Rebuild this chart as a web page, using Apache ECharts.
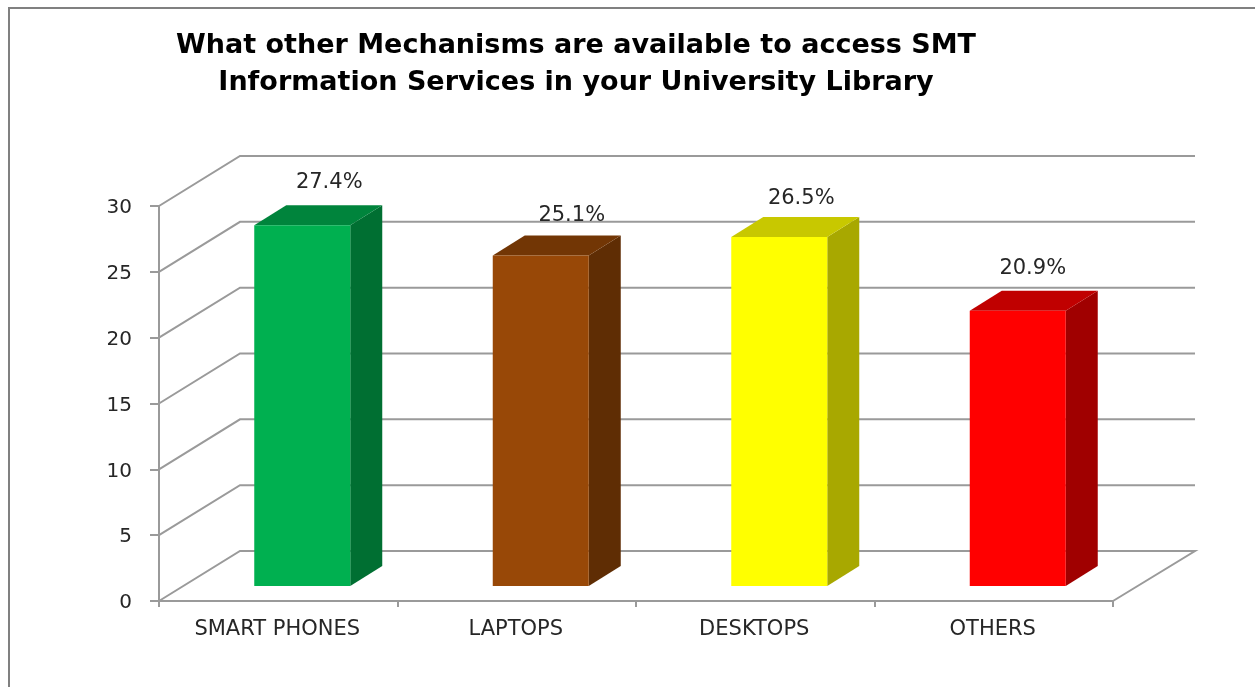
<!DOCTYPE html>
<html><head><meta charset="utf-8">
<style>html,body{margin:0;padding:0;background:#fff}#c{width:1255px;height:687px}</style>
<script src="https://cdn.jsdelivr.net/npm/echarts@6/dist/echarts.min.js"></script>
</head><body><div id="c"></div>
<script>
var categories = ['SMART PHONES','LAPTOPS','DESKTOPS','OTHERS'];
var values = [27.4,25.1,26.5,20.9];
var valueLabels = ['27.4%','25.1%','26.5%','20.9%'];
var gridValues = [0,5,10,15,20,25,30];
var frontColors = ['#00B050','#984807','#FFFF00','#FF0000'];
var topColors = ['#00843C','#723605','#C8C800','#C00000'];
var sideColors = ['#006F32','#5F2D04','#A8A800','#A00000'];
var labelShiftX = [27,31,22,15];
var labelShiftY = [-43,-40,-39,-42];
var titleLines = 'What other Mechanisms are available to access SMT\nInformation Services in your University Library';
var LINE='#9a9a9a', TEXT='#262626', FONT='"DejaVu Sans"';
var WALL_DX=81, WALL_DY=50, BAR_W=96, BAR_SHIFT_X=24, BAR_SHIFT_Y=15, SIDE_DX=32, SIDE_DY=20;

var chart = echarts.init(document.getElementById('c'),null,{renderer:'canvas'});
chart.setOption({
  animation:false,
  backgroundColor:'#fff',
  title:{text:titleLines,left:571,top:22,textAlign:'center',
    textStyle:{fontFamily:FONT,fontWeight:'bold',fontSize:27,lineHeight:37,color:'#000'}},
  grid:{left:159,right:142,top:206,bottom:86},
  xAxis:{type:'category',data:categories,
    axisLine:{lineStyle:{color:LINE,width:2}},
    axisTick:{show:true,length:6,lineStyle:{color:LINE,width:2}},
    axisLabel:{fontFamily:FONT,fontSize:21,color:TEXT,margin:18,padding:[0,2,0,0]}},
  yAxis:{type:'value',min:0,max:30,interval:5,
    axisLine:{show:true,lineStyle:{color:LINE,width:2}},
    axisTick:{show:true,length:9,lineStyle:{color:LINE,width:2}},
    splitLine:{show:false},
    axisLabel:{fontFamily:FONT,fontSize:20,color:TEXT,margin:27,verticalAlign:'top',lineHeight:4}},
  graphic:[{type:'polyline',silent:true,z:0,
    shape:{points:[[9,687],[9,8],[1255,8]]},style:{fill:null,stroke:'#808080',lineWidth:2}}],
  series:[
   {type:'custom',name:'walls',z:1,data:gridValues,encode:{y:0},
    renderItem:function(p,api){
      var v=api.value(0), cs=p.coordSys, y=api.coord([0,v])[1], x0=cs.x, x1=cs.x+cs.width;
      var pts=[[x0,y],[x0+WALL_DX,y-WALL_DY],[x1+WALL_DX+1,y-WALL_DY]];
      if(v===0) pts.push([x1,y]);
      return {type:'polyline',shape:{points:pts},style:{fill:null,stroke:LINE,lineWidth:2}};
    }},
   {type:'custom',name:'bars',z:3,data:values,encode:{x:0,y:0},
    renderItem:function(p,api){
      var i=p.dataIndex, v=api.value(0);
      var c=api.coord([i,v]), b=api.coord([i,0]);
      var l=c[0]-BAR_W/2+BAR_SHIFT_X, r=l+BAR_W, t=c[1]-BAR_SHIFT_Y, bt=b[1]-BAR_SHIFT_Y;
      return {type:'group',children:[
        {type:'polygon',shape:{points:[[r,t],[r+SIDE_DX,t-SIDE_DY],[r+SIDE_DX,bt-SIDE_DY],[r,bt]]},style:{fill:sideColors[i]}},
        {type:'polygon',shape:{points:[[l,t],[l+SIDE_DX,t-SIDE_DY],[r+SIDE_DX,t-SIDE_DY],[r,t]]},style:{fill:topColors[i]}},
        {type:'rect',shape:{x:l,y:t,width:BAR_W,height:bt-t},style:{fill:frontColors[i]}},
        {type:'text',style:{x:(l+r)/2+labelShiftX[i],y:t+labelShiftY[i],text:valueLabels[i],fontFamily:FONT,fontSize:21,fill:TEXT,align:'center',verticalAlign:'middle'}}
      ]};
    }}
  ]
});
</script></body></html>
